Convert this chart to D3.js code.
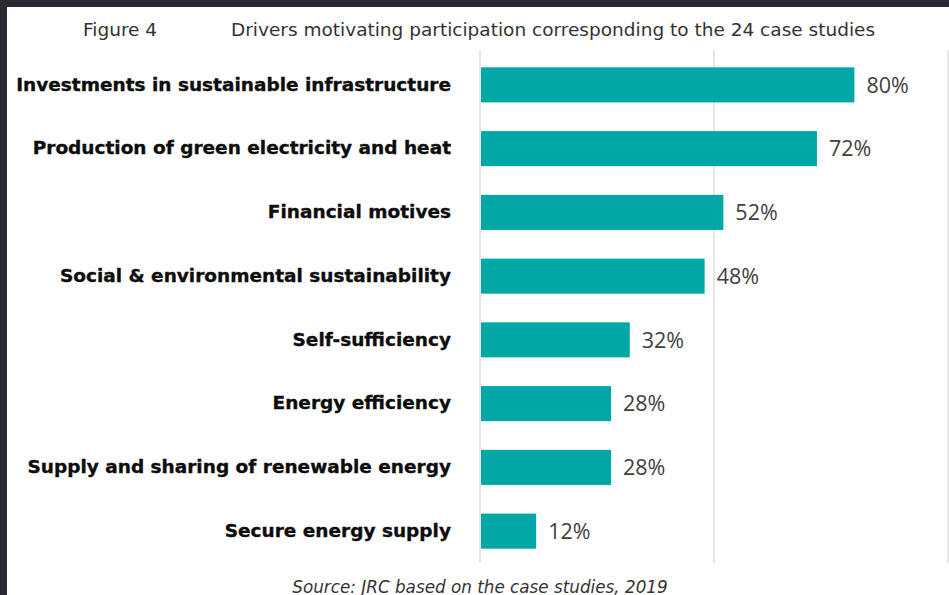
<!DOCTYPE html>
<html>
<head>
<meta charset="utf-8">
<script src="https://cdn.jsdelivr.net/npm/d3@7"></script>
<style>
  html, body { margin: 0; padding: 0; background: #2a2a32; }
  svg { display: block; }
</style>
</head>
<body>
<svg id="chart" width="949" height="595"></svg>
<script>
// Drivers motivating participation (share of the 24 case studies, %)
const categories = [
  "Investments in sustainable infrastructure",
  "Production of green electricity and heat",
  "Financial motives",
  "Social & environmental sustainability",
  "Self-sufficiency",
  "Energy efficiency",
  "Supply and sharing of renewable energy",
  "Secure energy supply"
];
const shares = [80, 72, 52, 48, 32, 28, 28, 12];
const gridTicks = [0, 50, 100];

const figureLabel = "Figure 4";
const titleText = "Drivers motivating participation corresponding to the 24 case studies";
const sourceText = "Source: JRC based on the case studies, 2019";

const svg = d3.select("#chart");
const W = 949, H = 595;

// page area (dark frame on top and left)
svg.append("rect").attr("x", 0).attr("y", 0).attr("width", W).attr("height", H).attr("fill", "#2a2a32");
svg.append("rect").attr("x", 7).attr("y", 7).attr("width", W - 7).attr("height", H - 7).attr("fill", "#ffffff");

const x = d3.scaleLinear().domain([0, 100]).range([480, 948]);
const y = d3.scaleBand().domain(categories).range([53, 563]).paddingInner(0.45).paddingOuter(0.225);

// vertical gridlines
svg.append("g").selectAll("line").data(gridTicks).join("line")
  .attr("x1", d => x(d)).attr("x2", d => x(d))
  .attr("y1", 50).attr("y2", 563)
  .attr("stroke", "#d9d9d9").attr("stroke-width", 1.3);

// bars
svg.append("g").selectAll("rect").data(categories).join("rect")
  .attr("x", x(0) + 1)
  .attr("y", d => y(d))
  .attr("width", (d, i) => x(shares[i]) - x(0) - 1)
  .attr("height", y.bandwidth())
  .attr("fill", "#00a7a4");

// value labels
svg.append("g").selectAll("text").data(categories).join("text")
  .attr("x", (d, i) => x(shares[i]) + 12)
  .attr("y", d => y(d) + y.bandwidth() / 2)
  .attr("dy", "0.36em")
  .attr("font-family", "'Open Sans', 'Noto Sans', sans-serif")
  .attr("font-size", 21.5)
  .attr("fill", "#404040")
  .text((d, i) => shares[i] + "%");

// category labels
svg.append("g").selectAll("text").data(categories).join("text")
  .attr("x", 451)
  .attr("y", d => y(d) + y.bandwidth() / 2 - 1)
  .attr("dy", "0.36em")
  .attr("text-anchor", "end")
  .attr("font-family", "'DejaVu Sans', Verdana, sans-serif")
  .attr("font-weight", "bold")
  .attr("font-size", 18.5)
  .attr("fill", "#0d0d0d")
  .attr("stroke", "#0d0d0d")
  .attr("stroke-width", 0.35)
  .text(d => d);

// heading
svg.append("text").attr("x", 83).attr("y", 36)
  .attr("font-family", "'DejaVu Sans', Verdana, sans-serif")
  .attr("font-size", 18.5).attr("fill", "#333333")
  .text(figureLabel);
svg.append("text").attr("x", 231).attr("y", 36)
  .attr("font-family", "'DejaVu Sans', Verdana, sans-serif")
  .attr("font-size", 18.5).attr("fill", "#333333")
  .text(titleText);

// source note
svg.append("text").attr("x", 480).attr("y", 593)
  .attr("text-anchor", "middle")
  .attr("font-family", "'DejaVu Sans', Verdana, sans-serif")
  .attr("font-style", "italic")
  .attr("font-size", 16.8).attr("fill", "#333333")
  .text(sourceText);
</script>
</body>
</html>
